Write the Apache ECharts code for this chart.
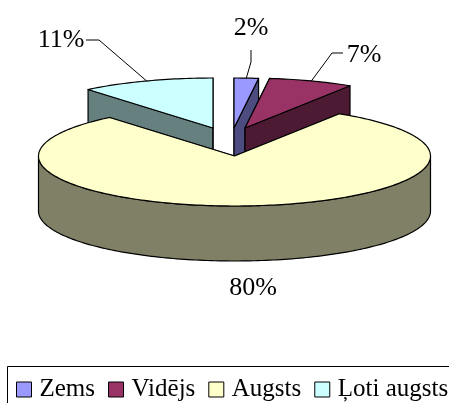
<!DOCTYPE html>
<html><head><meta charset="utf-8">
<script src="https://cdn.jsdelivr.net/npm/echarts@6/dist/echarts.min.js"></script>
<style>html,body{margin:0;padding:0;background:#fff}#c{width:449px;height:403px}</style>
</head><body><div id="c"></div>
<script>
// ---- data ----
const categories = ['Zems', 'Vidējs', 'Augsts', 'Ļoti augsts'];
const values = [2, 7, 80, 11];

// ---- styles ----
const topColors = ['#9999FF', '#993366', '#FFFFCC', '#CCFFFF'];
const sideColors = ['#4C4C80', '#4D1A33', '#808066', '#668080'];
const explode = [[0, 0], [11, 0], [0.5, 28], [-21, 0]];
const labelPos = [[251, 28], [364, 55], [253, 288], [61, 40]];
const leaderElbow = [[[251, 62], [251, 50]], [[332, 53], [343, 53]], null, [[99, 40], [86, 40]]];
const CX = 234, CY = 128, RX = 196, RY = 50, H = 55;
const FONT = '26px "Liberation Serif", "Times New Roman", serif';

const total = values.reduce((a, b) => a + b, 0);

function makeRender(i) {
  return function (params, api) {
    const v = api.value(0);
    let before = 0;
    for (let k = 0; k < i; k++) before += values[k];
    const a0 = before / total * 2 * Math.PI;
    const a1 = (before + v) / total * 2 * Math.PI;
    const cx = CX + explode[i][0], cy = CY + explode[i][1];
    const P = (t, dy) => [cx + RX * Math.sin(t), cy - RY * Math.cos(t) + (dy || 0)];
    const arc = (t0, t1, dy) => {
      const n = Math.max(2, Math.ceil((t1 - t0) / 0.02));
      const pts = [];
      for (let k = 0; k <= n; k++) pts.push(P(t0 + (t1 - t0) * k / n, dy));
      return pts;
    };
    const children = [];
    const sideStyle = { fill: sideColors[i], stroke: '#000', lineWidth: 1.2, lineJoin: 'round' };
    [a0, a1].forEach(t => {
      const r = P(t);
      children.push({ type: 'polygon', z2: 1,
        shape: { points: [[cx, cy], r, [r[0], r[1] + H], [cx, cy + H]] }, style: sideStyle });
    });
    const r0 = Math.max(a0, Math.PI / 2), r1 = Math.min(a1, 1.5 * Math.PI);
    if (r1 > r0) {
      const pts = arc(r0, r1, 0).concat(arc(r0, r1, H).reverse());
      children.push({ type: 'polygon', z2: 2, shape: { points: pts }, style: sideStyle });
    }
    children.push({ type: 'polygon', z2: 3,
      shape: { points: [[cx, cy]].concat(arc(a0, a1, 0)) },
      style: { fill: topColors[i], stroke: '#000', lineWidth: 1.2, lineJoin: 'round' } });
    // label
    const mid = (a0 + a1) / 2;
    if (leaderElbow[i]) {
      const pts = [P(mid)].concat(leaderElbow[i]);
      children.push({ type: 'polyline', z2: 4, shape: { points: pts },
        style: { stroke: '#000', lineWidth: 1, fill: null } });
    }
    children.push({ type: 'text', z2: 5,
      style: { text: Math.round(v / total * 100) + '%', x: labelPos[i][0], y: labelPos[i][1],
        font: FONT, fill: '#000', align: 'center', verticalAlign: 'middle' } });
    return { type: 'group', children: children };
  };
}

const series = categories.map((name, i) => ({
  type: 'custom',
  name: name,
  coordinateSystem: 'none',
  z: i === 2 ? 3 : 2,
  itemStyle: { color: topColors[i] },
  renderItem: makeRender(i),
  data: [{ value: values[i], name: name }]
}));

const chart = echarts.init(document.getElementById('c'), null, { renderer: 'canvas' });
chart.setOption({
  backgroundColor: '#fff',
  animation: false,
  legend: {
    data: categories,
    left: 16,
    top: 377,
    width: 440,
    padding: 0,
    icon: 'rect',
    itemWidth: 15,
    itemHeight: 15,
    itemGap: 13,
    itemStyle: { borderColor: '#000', borderWidth: 1 },
    textStyle: { fontFamily: '"Liberation Serif", "Times New Roman", serif', fontSize: 25, color: '#000', padding: [0, 0, 0, 3] },
    selectedMode: false
  },
  graphic: [{
    type: 'rect', left: 5, top: 364,
    shape: { x: 0, y: 0, width: 443, height: 60 },
    style: { fill: null, stroke: '#000', lineWidth: 1 }
  }],
  series: series
});
</script>
</body></html>
